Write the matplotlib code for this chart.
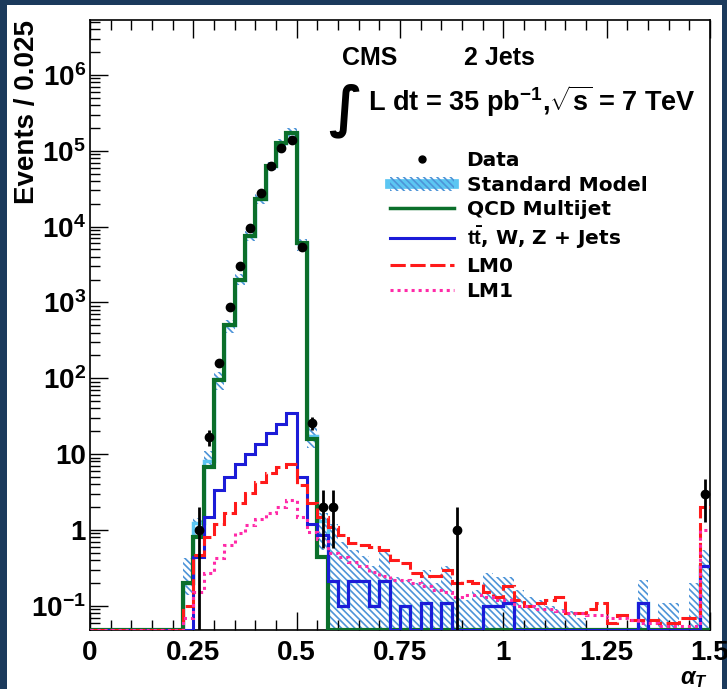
import numpy as np
import matplotlib
matplotlib.use("Agg")
import matplotlib.pyplot as plt
from matplotlib.patches import Patch, Rectangle
from matplotlib.lines import Line2D
from matplotlib.ticker import FixedLocator, FixedFormatter, LogLocator, MultipleLocator, FormatStrFormatter, NullFormatter

plt.rcParams['font.family'] = ['Liberation Sans', 'DejaVu Sans']
plt.rcParams['font.weight'] = 'bold'
plt.rcParams['mathtext.fontset'] = 'custom'
plt.rcParams['mathtext.rm'] = 'Liberation Sans:bold'
plt.rcParams['mathtext.bf'] = 'Liberation Sans:bold'
plt.rcParams['mathtext.it'] = 'Liberation Sans:bold:italic'
plt.rcParams['hatch.linewidth'] = 1.2

# binning: 60 bins of 0.025 in alpha_T
bin_width = 0.025
n_bins = 60
y_min, y_max = 0.048, 5.3e6

# values, one per bin (0 = empty bin)
qcd = [0]*9 + [0.2, 0.8, 6.7, 94, 500, 2000, 7600, 23000, 63000, 1.25e5, 1.73e5,
               6000, 16, 0.44] + [0]*37

ewk = [0]*10 + [0.44, 1.5, 3.4, 5.0, 7.5, 10, 13.5, 19, 25, 35, 5.0, 1.2, 0.86,
                0.21, 0.1, 0.21, 0.21, 0.1, 0.21, 0, 0.1, 0, 0.11, 0, 0.11, 0, 0, 0,
                0.1, 0.1, 0.11] + [0]*12 + [0.11] + [0]*5 + [0.33]

lm0 = [0]*9 + [0.1, 0.47, 0.8, 1.2, 1.7, 2.3, 3.1, 4.3, 5.6, 6.8, 7.5, 3.9, 2.3, 1.5,
               1.1, 0.85, 0.67, 0.63, 0.6, 0.55, 0.4, 0.37, 0.27, 0.25, 0.25, 0.3,
               0.2, 0.21, 0.2, 0.15, 0.13, 0.18, 0.12, 0.1, 0.11, 0.12, 0.13, 0.08,
               0.08, 0.09, 0.11, 0.06, 0.075, 0.065, 0.065, 0.065, 0.06, 0.06, 0.07,
               0.07, 2.0]

lm1 = [0]*9 + [0.07, 0.15, 0.27, 0.43, 0.63, 0.9, 1.15, 1.4, 1.7, 2.0, 2.5, 1.5, 0.95,
               0.75, 0.5, 0.44, 0.38, 0.33, 0.28, 0.25, 0.22, 0.22, 0.2, 0.18, 0.16,
               0.15, 0.13, 0.14, 0.14, 0.13, 0.12, 0.12, 0.1, 0.1, 0.09, 0.09, 0.085,
               0.08, 0.08, 0.075, 0.075, 0.07, 0.07, 0.065, 0.06, 0.06, 0.055, 0.055,
               0.055, 0.055, 1.0]

# standard model uncertainty band
sm_lo = [0]*9 + [0.14, 0.85, 7, 70, 400, 1700, 6500, 20000, 55000, 1.1e5, 1.5e5,
                 4800, 12, 0.55] + [0]*37
sm_hi = [0]*9 + [0.43, 1.45, 11, 120, 580, 2400, 8800, 27000, 72000, 1.45e5, 2.0e5,
                 6900, 22, 1.7] + \
        [1.2, 0.7, 0.55, 0.45, 0.33, 0.55, 0.24, 0.22, 0.2, 0.3, 0.2, 0.33, 0.13, 0.12,
         0.16, 0.27, 0.24, 0.24, 0.16, 0.13, 0.12, 0.1, 0.09, 0.085, 0.07, 0, 0, 0, 0,
         0, 0.22, 0, 0.11, 0.11, 0, 0.2, 0.55]

data = [0]*10 + [1, 17, 160, 860, 3000, 9700, 28000, 63000, 1.1e5, 1.39e5, 5400, 26,
                 2, 2] + [0]*11 + [1] + [0]*23 + [3]

x_ticks = [0, 0.25, 0.5, 0.75, 1, 1.25, 1.5]
y_ticks = [0.1, 1, 10, 100, 1e3, 1e4, 1e5, 1e6]
y_tick_labels = [r'$\mathbf{10^{-1}}$', '1', '10', r'$\mathbf{10^{2}}$', r'$\mathbf{10^{3}}$',
                 r'$\mathbf{10^{4}}$', r'$\mathbf{10^{5}}$', r'$\mathbf{10^{6}}$']

green = '#0b6f2b'
blue = '#1c1cd8'
red = '#ff1a1a'
pink = '#ff2aa8'
sm_col = '#5cc6f2'
hatch_col = '#4d94d8'
navy = '#1b3a5c'
hatch = '\\' * 5

edges = np.arange(n_bins + 1) * bin_width
centers = edges[:-1] + bin_width / 2


def clip(v):
    return np.maximum(np.asarray(v, dtype=float), y_min)


fig = plt.figure(figsize=(7.27, 6.89), dpi=100)
fig.patch.set_facecolor(navy)
fig.add_artist(Rectangle((7/727, 0), (722 - 7)/727, (689 - 5)/689, transform=fig.transFigure,
                         facecolor='white', edgecolor='none', zorder=-1))
ax = fig.add_axes([90/727, 59/689, 620/727, 610/689])

sm = np.asarray(qcd) + np.asarray(ewk)
ax.stairs(clip(sm_hi), edges, baseline=clip(sm_lo), fill=True, hatch=hatch,
          facecolor='none', edgecolor=hatch_col, linewidth=0, zorder=1)
ax.stairs(clip(sm), edges, baseline=None, color=sm_col, lw=2.5, zorder=2)
ax.stairs(clip(qcd), edges, baseline=None, color=green, lw=3.0, zorder=3)
ax.stairs(clip(ewk), edges, baseline=None, color=blue, lw=2.2, zorder=4)
ax.stairs(clip(lm0), edges, baseline=None, color=red, lw=2.2, linestyle=(0, (5, 1.5)), zorder=5)
ax.stairs(clip(lm1), edges, baseline=None, color=pink, lw=2.2, linestyle=(0, (1, 1.3)), zorder=6)

d = np.asarray(data, dtype=float)
m = d > 0
err = np.sqrt(d[m])
err_lo = d[m] - np.maximum(d[m] - err, y_min)
ax.errorbar(centers[m], d[m], yerr=[err_lo, err], fmt='o', color='black', ms=6,
            elinewidth=2.0, capsize=0, zorder=7)

ax.set_yscale('log')
ax.set_xlim(0, 1.5)
ax.set_ylim(y_min, y_max)
ax.xaxis.set_major_locator(FixedLocator(x_ticks))
ax.xaxis.set_major_formatter(FormatStrFormatter('%g'))
ax.xaxis.set_minor_locator(MultipleLocator(0.05))
ax.yaxis.set_major_locator(FixedLocator(y_ticks))
ax.yaxis.set_major_formatter(FixedFormatter(y_tick_labels))
ax.yaxis.set_minor_locator(LogLocator(base=10, subs=np.arange(2, 10), numticks=20))
ax.yaxis.set_minor_formatter(NullFormatter())
ax.tick_params(which='both', direction='in', top=True, right=False, labelsize=20, width=1.0)
ax.tick_params(which='major', length=13)
ax.tick_params(which='minor', length=7)
ax.tick_params(axis='x', pad=7)
ax.tick_params(axis='y', pad=3)
for s in ax.spines.values():
    s.set_linewidth(1.2)

fig.text(27/727, 1 - 20/689, 'Events / 0.025', rotation=90, ha='center', va='top', fontsize=20)
fig.text(708/727, 1 - 684/689, r'$\alpha_{T}$', ha='right', va='baseline', fontsize=17,
         family='DejaVu Sans', fontweight='normal')

fig.text(342/727, 1 - 58/689, 'CMS', ha='left', va='center', fontsize=18)
fig.text(464/727, 1 - 58/689, '2 Jets', ha='left', va='center', fontsize=18)
fig.text(328/727, 1 - 111/689, '\u222b', ha='left', va='center', fontsize=40, family='DejaVu Sans')
fig.text(368/727, 1 - 101/689, r'L dt = 35 pb$^{\mathbf{-1}}$,$\sqrt{\mathbf{s}}$ = 7 TeV',
         ha='left', va='center', fontsize=19.5)

handles = [
    Line2D([], [], marker='o', ls='none', color='black', ms=5),
    (Line2D([], [], color=sm_col, lw=7),
     Patch(facecolor='none', edgecolor=hatch_col, hatch=hatch, linewidth=0)),
    Line2D([], [], color=green, lw=2.5),
    Line2D([], [], color=blue, lw=2.2),
    Line2D([], [], color=red, lw=2.2, linestyle=(0, (5, 1.5))),
    Line2D([], [], color=pink, lw=2.2, linestyle=(0, (1, 1.3))),
]
labels = ['Data', 'Standard Model', 'QCD Multijet', r'$\mathbf{t\bar{t}}$, W, Z + Jets', 'LM0', 'LM1']
ax.legend(handles, labels, loc='upper left', bbox_to_anchor=(390/727, 1 - 151/689),
          bbox_transform=fig.transFigure, frameon=False, borderpad=0, borderaxespad=0,
          handlelength=3.2, handletextpad=0.6, labelspacing=0.28,
          prop={'family': 'DejaVu Sans', 'weight': 'bold', 'size': 14.5})

fig.savefig('out.png', dpi=100, facecolor=fig.get_facecolor())
